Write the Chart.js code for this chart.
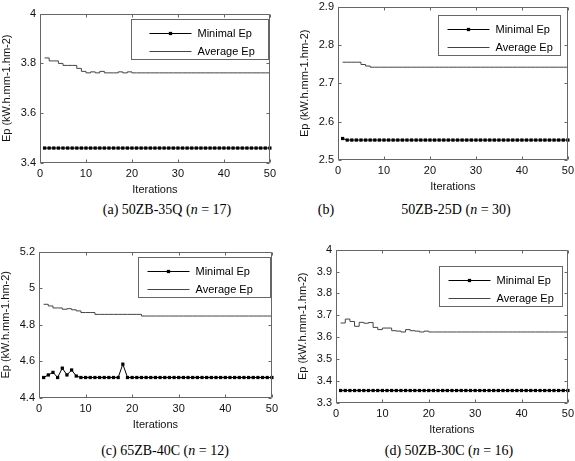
<!DOCTYPE html>
<html>
<head>
<meta charset="utf-8">
<script src="https://cdn.jsdelivr.net/npm/chart.js@4.4.1/dist/chart.umd.min.js"></script>
<style>
  html, body { margin: 0; padding: 0; background: #fff; }
  body { width: 575px; height: 461px; position: relative; overflow: hidden; }
  canvas { position: absolute; }
  .cap { position: absolute; transform: translate(-50%, -50%); font: 14px 'Liberation Serif', 'Times New Roman', serif; color: #000; white-space: nowrap; }
</style>
</head>
<body>
<canvas id="chartA" width="280" height="194" style="left:0px;top:3px"></canvas>
<canvas id="chartB" width="280" height="198" style="left:298px;top:-4px"></canvas>
<canvas id="chartC" width="283" height="191" style="left:-1px;top:241px"></canvas>
<canvas id="chartD" width="282" height="198" style="left:296px;top:239px"></canvas>

<div class="cap" style="left:167px;top:210px">(a) 50ZB-35Q (<i>n</i> = 17)</div>
<div class="cap" style="left:326px;top:210px">(b)</div>
<div class="cap" style="left:456px;top:210px">50ZB-25D (<i>n</i> = 30)</div>
<div class="cap" style="left:165px;top:451px">(c) 65ZB-40C (<i>n</i> = 12)</div>
<div class="cap" style="left:449px;top:451px">(d) 50ZB-30C (<i>n</i> = 16)</div>

<script>
// ---- dados ----
const iteracoes = [1,2,3,4,5,6,7,8,9,10,11,12,13,14,15,16,17,18,19,20,21,22,23,24,25,
                   26,27,28,29,30,31,32,33,34,35,36,37,38,39,40,41,42,43,44,45,46,47,48,49,50]
const xTicks = [0, 10, 20, 30, 40, 50]

// (a) 50ZB-35Q
const minA = [3.46,3.46,3.46,3.46,3.46,3.46,3.46,3.46,3.46,3.46,3.46,3.46,3.46,3.46,3.46,3.46,3.46,3.46,3.46,3.46,3.46,3.46,3.46,3.46,3.46,
              3.46,3.46,3.46,3.46,3.46,3.46,3.46,3.46,3.46,3.46,3.46,3.46,3.46,3.46,3.46,3.46,3.46,3.46,3.46,3.46,3.46,3.46,3.46,3.46,3.46]
const avgA = [3.822,3.81,3.81,3.80,3.792,3.792,3.792,3.78,3.768,3.762,3.766,3.762,3.768,3.762,3.762,3.762,3.766,3.762,3.766,3.762,3.762,3.762,3.762,3.762,3.762,
              3.762,3.762,3.762,3.762,3.762,3.762,3.762,3.762,3.762,3.762,3.762,3.762,3.762,3.762,3.762,3.762,3.762,3.762,3.762,3.762,3.762,3.762,3.762,3.762,3.762]
const yTicksA = [3.4, 3.6, 3.8, 4]

// (b) 50ZB-25D
const minB = [2.556,2.552,2.552,2.552,2.552,2.552,2.552,2.552,2.552,2.552,2.552,2.552,2.552,2.552,2.552,2.552,2.552,2.552,2.552,2.552,2.552,2.552,2.552,2.552,2.552,
              2.552,2.552,2.552,2.552,2.552,2.552,2.552,2.552,2.552,2.552,2.552,2.552,2.552,2.552,2.552,2.552,2.552,2.552,2.552,2.552,2.552,2.552,2.552,2.552,2.552]
const avgB = [2.755,2.755,2.755,2.755,2.749,2.745,2.742,2.742,2.742,2.742,2.742,2.742,2.742,2.742,2.742,2.742,2.742,2.742,2.742,2.742,2.742,2.742,2.742,2.742,2.742,
              2.742,2.742,2.742,2.742,2.742,2.742,2.742,2.742,2.742,2.742,2.742,2.742,2.742,2.742,2.742,2.742,2.742,2.742,2.742,2.742,2.742,2.742,2.742,2.742,2.742]
const yTicksB = [2.5, 2.6, 2.7, 2.8, 2.9]

// (c) 65ZB-40C
const minC = [4.512,4.526,4.540,4.512,4.563,4.526,4.553,4.52,4.512,4.512,4.512,4.512,4.512,4.512,4.512,4.512,4.512,4.585,4.512,4.512,4.512,4.512,4.512,4.512,4.512,
              4.512,4.512,4.512,4.512,4.512,4.512,4.512,4.512,4.512,4.512,4.512,4.512,4.512,4.512,4.512,4.512,4.512,4.512,4.512,4.512,4.512,4.512,4.512,4.512,4.512]
const avgC = [4.912,4.903,4.892,4.892,4.885,4.888,4.882,4.876,4.867,4.867,4.867,4.857,4.857,4.857,4.857,4.857,4.857,4.857,4.857,4.857,4.857,4.848,4.848,4.848,4.848,
              4.848,4.848,4.848,4.848,4.848,4.848,4.848,4.848,4.848,4.848,4.848,4.848,4.848,4.848,4.848,4.848,4.848,4.848,4.848,4.848,4.848,4.848,4.848,4.848,4.848]
const yTicksC = [4.4, 4.6, 4.8, 5, 5.2]

// (d) 50ZB-30C
const minD = [3.357,3.357,3.357,3.357,3.357,3.357,3.357,3.357,3.357,3.357,3.357,3.357,3.357,3.357,3.357,3.357,3.357,3.357,3.357,3.357,3.357,3.357,3.357,3.357,3.357,
              3.357,3.357,3.357,3.357,3.357,3.357,3.357,3.357,3.357,3.357,3.357,3.357,3.357,3.357,3.357,3.357,3.357,3.357,3.357,3.357,3.357,3.357,3.357,3.357,3.357]
const avgD = [3.665,3.683,3.672,3.650,3.668,3.664,3.667,3.645,3.635,3.642,3.642,3.630,3.628,3.624,3.635,3.630,3.628,3.624,3.628,3.624,3.624,3.624,3.624,3.624,3.624,
              3.624,3.624,3.624,3.624,3.624,3.624,3.624,3.624,3.624,3.624,3.624,3.624,3.624,3.624,3.624,3.624,3.624,3.624,3.624,3.624,3.624,3.624,3.624,3.624,3.624]
const yTicksD = [3.3, 3.4, 3.5, 3.6, 3.7, 3.8, 3.9, 4]

const legendas = ['Minimal Ep', 'Average Ep']

// ---- estilo geral ----
Chart.defaults.font.family = "'Liberation Sans', Arial, Helvetica, sans-serif"
Chart.defaults.font.size = 11
Chart.defaults.color = '#111'

// caixa estilo MATLAB + legenda dentro do gráfico
const caixaMatlab = {
    id: 'caixaMatlab',
    afterDatasetsDraw(chart, args, opts) {
        const ctx = chart.ctx
        const a = chart.chartArea
        const x = chart.scales.x, y = chart.scales.y
        const L = Math.round(a.left) + 0.5, R = Math.round(a.right) - 0.5
        const T = Math.round(a.top) + 0.5, B = Math.round(a.bottom) - 0.5
        const t = 3
        ctx.save()
        ctx.strokeStyle = '#666'
        ctx.lineWidth = 1
        ctx.beginPath()
        ctx.rect(L, T, R - L, B - T)
        x.ticks.forEach(tk => {
            const px = Math.round(x.getPixelForValue(tk.value)) + 0.5
            ctx.moveTo(px, B); ctx.lineTo(px, B - t)
            ctx.moveTo(px, T); ctx.lineTo(px, T + t)
        })
        y.ticks.forEach(tk => {
            const py = Math.round(y.getPixelForValue(tk.value)) + 0.5
            ctx.moveTo(L, py); ctx.lineTo(L + t, py)
            ctx.moveTo(R, py); ctx.lineTo(R - t, py)
        })
        ctx.stroke()

        // legenda
        const lg = opts.legenda
        const bx = Math.round(a.right - lg.dx - lg.w) + 0.5
        const by = Math.round(a.top + lg.dy) + 0.5
        ctx.fillStyle = '#fff'
        ctx.fillRect(bx, by, lg.w, 40)
        ctx.strokeStyle = '#666'
        ctx.strokeRect(bx, by, lg.w, 40)
        const rows = [13, 31]
        chart.data.datasets.forEach((ds, i) => {
            const ry = Math.round(by + rows[i]) + 0.5
            const x0 = bx + lg.pl, x1 = x0 + 42
            ctx.strokeStyle = ds.borderColor
            ctx.lineWidth = 1
            ctx.beginPath(); ctx.moveTo(x0, ry); ctx.lineTo(x1, ry); ctx.stroke()
            if (ds.pointRadius > 0) {
                const s = ds.pointRadius * Math.SQRT1_2
                ctx.fillStyle = ds.pointBackgroundColor
                ctx.fillRect((x0 + x1) / 2 - s, ry - s, 2 * s, 2 * s)
            }
            ctx.fillStyle = '#000'
            ctx.font = "11px 'Liberation Sans', Arial, sans-serif"
            ctx.textBaseline = 'middle'
            ctx.textAlign = 'left'
            ctx.fillText(ds.label, x1 + 6, ry)
        })
        ctx.restore()
    }
}

function formataTick(v) {
    return String(Number(v.toFixed(3)))
}

function criaGrafico(id, minVals, avgVals, yTicks, legendaCfg) {
    const ctx = document.getElementById(id).getContext('2d')
    return new Chart(ctx, {
        type: 'line',
        data: {
            labels: iteracoes,
            datasets: [
                {
                    label: legendas[0],
                    data: iteracoes.map((it, i) => ({ x: it, y: minVals[i] })),
                    borderColor: '#000',
                    borderWidth: 1,
                    pointStyle: 'rect',
                    pointRadius: 2.3,
                    pointBackgroundColor: '#000',
                    pointBorderWidth: 0,
                    clip: false
                },
                {
                    label: legendas[1],
                    data: iteracoes.map((it, i) => ({ x: it, y: avgVals[i] })),
                    borderColor: '#444',
                    borderWidth: 1,
                    pointRadius: 0,
                    stepped: 'before'
                }
            ]
        },
        options: {
            responsive: false,
            animation: false,
            layout: { padding: { top: 7, right: 10, left: 0, bottom: 0 } },
            plugins: {
                legend: { display: false },
                tooltip: { enabled: false },
                caixaMatlab: { legenda: legendaCfg }
            },
            scales: {
                x: {
                    type: 'linear',
                    min: xTicks[0],
                    max: xTicks[xTicks.length - 1],
                    afterBuildTicks: s => { s.ticks = xTicks.map(v => ({ value: v })) },
                    afterFit: s => { s.height = 34 },
                    grid: { display: false, drawTicks: false },
                    border: { display: false },
                    ticks: { padding: 4, maxRotation: 0, autoSkip: false, callback: formataTick },
                    title: { display: true, text: 'Iterations', padding: { top: 0, bottom: 0 } }
                },
                y: {
                    type: 'linear',
                    min: yTicks[0],
                    max: yTicks[yTicks.length - 1],
                    afterBuildTicks: s => { s.ticks = yTicks.map(v => ({ value: v })) },
                    afterFit: s => { s.width = 40 },
                    grid: { display: false, drawTicks: false },
                    border: { display: false },
                    ticks: { padding: 4, autoSkip: false, callback: formataTick },
                    title: { display: true, text: 'Ep (kW.h.mm-1.hm-2)', padding: { top: 0, bottom: 0 } }
                }
            }
        },
        plugins: [caixaMatlab]
    })
}

criaGrafico('chartA', minA, avgA, yTicksA, { dx: 2, dy: 5, w: 137, pl: 18 })
criaGrafico('chartB', minB, avgB, yTicksB, { dx: 8, dy: 8, w: 122, pl: 9 })
criaGrafico('chartC', minC, avgC, yTicksC, { dx: 2, dy: 5, w: 132, pl: 9 })
criaGrafico('chartD', minD, avgD, yTicksD, { dx: 6, dy: 16, w: 123, pl: 9 })
</script>
</body>
</html>
